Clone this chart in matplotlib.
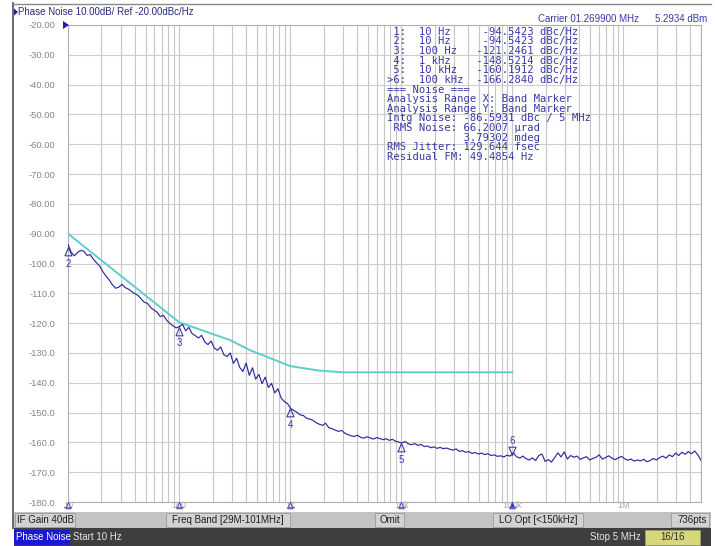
import numpy as np
import matplotlib
matplotlib.use('Agg')
import matplotlib.pyplot as plt
from matplotlib.patches import Rectangle, Polygon
from matplotlib.path import Path
from matplotlib.ticker import LogLocator, NullFormatter, FixedLocator

W, H = 715, 546

# ---------------- data ----------------
freq_start, freq_stop = 10.0, 5e6
noise_dbc = [
    -93.6, -96.2, -97.4, -96.3, -95.6, -95.9, -97.3, -97.0, -98.6, -99.8,
    -100.9, -102.8, -104.3, -105.6, -107.2, -108.3, -107.9, -107.0, -108.1, -108.6,
    -109.4, -110.1, -110.7, -111.9, -113.0, -113.4, -114.8, -115.6, -116.3, -117.8,
    -117.4, -119.0, -120.1, -120.9, -121.6, -121.2, -120.4, -122.6, -121.4, -123.5,
    -124.2, -125.0, -124.1, -126.3, -127.2, -126.0, -128.4, -129.1, -128.0, -130.6,
    -131.2, -130.0, -133.5, -131.8, -134.9, -136.2, -133.4, -137.5, -135.0, -138.8,
    -137.2, -140.3, -138.1, -141.6, -140.2, -143.4, -142.0, -145.1, -146.3, -147.0,
    -148.6, -149.3, -149.9, -150.8, -151.0, -151.9, -152.2, -152.6, -153.4, -153.9,
    -154.3, -153.6, -155.1, -155.4, -155.9, -156.3, -156.0, -156.9, -157.4, -157.8,
    -158.0, -157.6, -158.3, -158.6, -158.1, -158.5, -158.9, -158.4, -158.7, -159.1,
    -158.8, -159.3, -159.0, -159.6, -159.9, -160.2, -159.7, -160.5, -160.8, -160.4,
    -161.0, -160.7, -161.4, -161.2, -161.8, -161.5, -162.0, -161.7, -162.1, -161.9,
    -162.3, -162.6, -162.2, -163.0, -162.8, -163.3, -163.1, -163.7, -163.4, -163.9,
    -163.6, -164.1, -163.8, -164.4, -164.2, -164.7, -164.5, -164.9, -164.3, -164.6,
    -163.5, -164.8, -165.3, -164.6, -165.5, -165.9, -165.2, -166.1, -164.4, -163.9,
    -166.4, -165.8, -166.6, -165.1, -163.5, -164.9, -163.2, -165.6, -164.4, -165.0,
    -164.6, -165.7, -165.2, -164.8, -165.9, -165.4, -165.0, -164.2, -165.6, -165.1,
    -164.5, -165.3, -165.8, -165.2, -164.7, -165.5, -166.0, -165.6, -166.3, -165.9,
    -166.2, -165.7, -166.5, -166.1, -165.4, -165.9, -165.1, -164.6, -165.3, -164.2,
    -164.8, -163.6, -164.4, -163.3, -164.0, -163.1, -163.8, -162.9, -164.2, -166.0,
]
limit_freq = [10, 100, 288, 437, 1000, 1800, 3000, 100000]
limit_dbc = [-90.0, -119.7, -125.7, -129.1, -134.4, -135.9, -136.5, -136.5]

marker_freq = [10, 100, 1000, 10000, 100000]
marker_dbc = [-94.5, -121.2, -148.5, -160.2, -164.4]
marker_names = ['2', '3', '4', '5', '6']

y_ticks = [-20, -30, -40, -50, -60, -70, -80, -90, -100, -110, -120,
           -130, -140, -150, -160, -170, -180]
y_ticklabels = ['-20.00', '-30.00', '-40.00', '-50.00', '-60.00', '-70.00',
                '-80.00', '-90.00', '-100.0', '-110.0', '-120.0', '-130.0',
                '-140.0', '-150.0', '-160.0', '-170.0', '-180.0']
x_ticks = [10, 100, 1e3, 1e4, 1e5, 1e6]
x_ticklabels = ['10', '100', '1k', '10k', '100k', '1M']

table_lines = [
    " 1:  10 Hz     -94.5423 dBc/Hz",
    " 2:  10 Hz     -94.5423 dBc/Hz",
    " 3:  100 Hz   -121.2461 dBc/Hz",
    " 4:  1 kHz    -148.5214 dBc/Hz",
    " 5:  10 kHz   -160.1912 dBc/Hz",
    ">6:  100 kHz  -166.2840 dBc/Hz",
    "=== Noise ===",
    "Analysis Range X: Band Marker",
    "Analysis Range Y: Band Marker",
    "Intg Noise: -86.5931 dBc / 5 MHz",
    " RMS Noise: 66.2007 µrad",
    "            3.79302 mdeg",
    "RMS Jitter: 129.644 fsec",
    "Residual FM: 49.4854 Hz",
]

header_text = "Phase Noise 10.00dB/ Ref -20.00dBc/Hz"
carrier_text = "Carrier 01.269900 MHz"
power_text = "5.2934 dBm"
status_items = [("IF Gain 40dB", 15, 75), ("Freq Band [29M-101MHz]", 166, 290),
                ("Omit", 375, 404), ("LO Opt [<150kHz]", 493, 583), ("736pts", 671, 709)]

# ---------------- figure ----------------
fig = plt.figure(figsize=(W / 100, H / 100), dpi=100)
fig.patch.set_facecolor('white')


def fx(x):
    return x / W


def fy(y):
    return 1 - y / H


UI = 'Liberation Sans'

ax_l, ax_r, ax_t, ax_b = 68, 701, 25, 502
ax = fig.add_axes([fx(ax_l), fy(ax_b), (ax_r - ax_l) / W, (ax_b - ax_t) / H])
ax.set_facecolor('white')
ax.set_xscale('log')
ax.set_xlim(freq_start, freq_stop)
ax.set_ylim(-180, -20)
ax.xaxis.set_major_locator(FixedLocator(x_ticks))
ax.xaxis.set_minor_locator(LogLocator(base=10, subs=range(2, 10), numticks=20))
ax.xaxis.set_minor_formatter(NullFormatter())
ax.set_xticklabels(x_ticklabels)
ax.set_yticks(y_ticks)
ax.set_yticklabels(y_ticklabels)
ax.tick_params(axis='both', which='both', length=0)
ax.tick_params(axis='y', pad=9, labelsize=6.8, labelcolor='#858585')
ax.tick_params(axis='x', pad=-1, labelsize=6.5, labelcolor='#a8a8a8')
for lab in ax.get_yticklabels() + ax.get_xticklabels():
    lab.set_fontfamily(UI)
ax.grid(True, which='both', axis='x', color='#c6c6c6', lw=0.8)
ax.grid(True, which='major', axis='y', color='#cdcdcd', lw=0.8)
for s in ax.spines.values():
    s.set_color('#b0b0b0')
    s.set_linewidth(0.8)

freq = np.geomspace(freq_start, freq_stop, len(noise_dbc))
ax.plot(limit_freq, limit_dbc, color='#5ccfcb', lw=1.4, zorder=3)
ax.plot(freq, noise_dbc, color='#2b2b9c', lw=0.85, zorder=4)

# trace markers
tri_up = Path([(0, 0), (-0.42, -1), (0.42, -1), (0, 0)], closed=True)
tri_dn = Path([(0, 0), (-0.42, 1), (0.42, 1), (0, 0)], closed=True)
mcol = '#3a3aa8'
for f, v, n in zip(marker_freq, marker_dbc, marker_names):
    if n == '6':
        ax.plot([f], [v], marker=tri_dn, ms=12, mfc='none', mec=mcol, mew=0.8,
                zorder=5, ls='none', clip_on=False)
        ax.annotate(n, (f, v), xytext=(0, 10.5), textcoords='offset points',
                    ha='center', va='center', fontsize=7, color=mcol,
                    fontfamily=UI, zorder=6)
    else:
        ax.plot([f], [v], marker=tri_up, ms=12, mfc='none', mec=mcol, mew=0.8,
                zorder=5, ls='none', clip_on=False)
        ax.annotate(n, (f, v), xytext=(0, -12), textcoords='offset points',
                    ha='center', va='center', fontsize=7, color=mcol,
                    fontfamily=UI, zorder=6, annotation_clip=False)

# markers along the frequency axis
for f, n in zip(marker_freq, marker_names):
    active = (n == '6')
    ax.plot([f], [-180], marker=tri_up, ms=9, ls='none', clip_on=False,
            mfc=('#2b2bb0' if active else 'white'), mec='#5050b8', mew=0.8,
            zorder=7)
for f in marker_freq:
    ax.plot([f * 0.93, f * 1.075], [-181.8, -181.8], color='#6a6ac0', lw=0.8,
            clip_on=False, zorder=7)

# ref level marker
fig.add_artist(Polygon([(fx(63), fy(21)), (fx(63), fy(29)), (fx(69), fy(25))],
                       closed=True, transform=fig.transFigure, fc='#2020a0', ec='none'))

# marker table
for k, line in enumerate(table_lines):
    fig.text(fx(386.5), fy(31.7 + k * 9.64), line, fontfamily='DejaVu Sans Mono',
             fontsize=7.6, color='#3838a6', ha='left', va='center')

# header
fig.add_artist(Polygon([(fx(14), fy(8.5)), (fx(14), fy(15.5)), (fx(18), fy(12))],
                       closed=True, transform=fig.transFigure, fc='#202080', ec='none'))
fig.text(fx(18), fy(12), header_text, fontfamily=UI, fontsize=7, color='#2a2a80',
         ha='left', va='center')
fig.text(fx(538), fy(18.5), carrier_text, fontfamily=UI, fontsize=7, color='#3a3aa0',
         ha='left', va='center')
fig.text(fx(707), fy(18.5), power_text, fontfamily=UI, fontsize=7, color='#3a3aa0',
         ha='right', va='center')

# outer frame
fig.add_artist(plt.Line2D([fx(13), fx(13)], [fy(3), fy(528)], transform=fig.transFigure,
                          color='#6a6a6a', lw=1.4))
fig.add_artist(plt.Line2D([fx(13), fx(711)], [fy(3.5), fy(3.5)], transform=fig.transFigure,
                          color='#8a8a8a', lw=1.0))

# gray status bar
fig.add_artist(Rectangle((fx(14), fy(528)), (711 - 14) / W, 16 / H, transform=fig.transFigure,
                         fc='#c3c3c3', ec='none'))
for txt, x0, x1 in status_items:
    fig.add_artist(Rectangle((fx(x0), fy(527)), (x1 - x0) / W, 14 / H,
                             transform=fig.transFigure, fc='#d2d2d2', ec='#9a9a9a', lw=0.6))
    if txt == "736pts":
        fig.text(fx(x1 - 2), fy(520), txt, fontfamily=UI, fontsize=7, color='#202020',
                 ha='right', va='center')
    elif txt == "IF Gain 40dB":
        fig.text(fx(x0 + 2), fy(520), txt, fontfamily=UI, fontsize=7, color='#202020',
                 ha='left', va='center')
    else:
        fig.text(fx((x0 + x1) / 2), fy(520), txt, fontfamily=UI, fontsize=7,
                 color='#202020', ha='center', va='center')

# dark status bar
fig.add_artist(Rectangle((fx(14), fy(546)), (711 - 14) / W, 18 / H, transform=fig.transFigure,
                         fc='#3e3e3e', ec='none'))
fig.add_artist(Rectangle((fx(14), fy(545)), 56 / W, 15 / H, transform=fig.transFigure,
                         fc='#1a1ad2', ec='none'))
fig.text(fx(16), fy(537.5), "Phase Noise", fontfamily=UI, fontsize=7, color='white',
         ha='left', va='center')
fig.text(fx(73), fy(537.5), "Start 10 Hz", fontfamily=UI, fontsize=7, color='#e6e6e6',
         ha='left', va='center')
fig.text(fx(641), fy(537.5), "Stop 5 MHz", fontfamily=UI, fontsize=7, color='#e6e6e6',
         ha='right', va='center')
fig.add_artist(Rectangle((fx(645), fy(545)), 55 / W, 15 / H, transform=fig.transFigure,
                         fc='#d6d67c', ec='#a0a060', lw=0.6))
fig.text(fx(672.5), fy(537.5), "16/16", fontfamily=UI, fontsize=7, color='#303030',
         ha='center', va='center')

fig.savefig('out.png', dpi=100, facecolor='white')
